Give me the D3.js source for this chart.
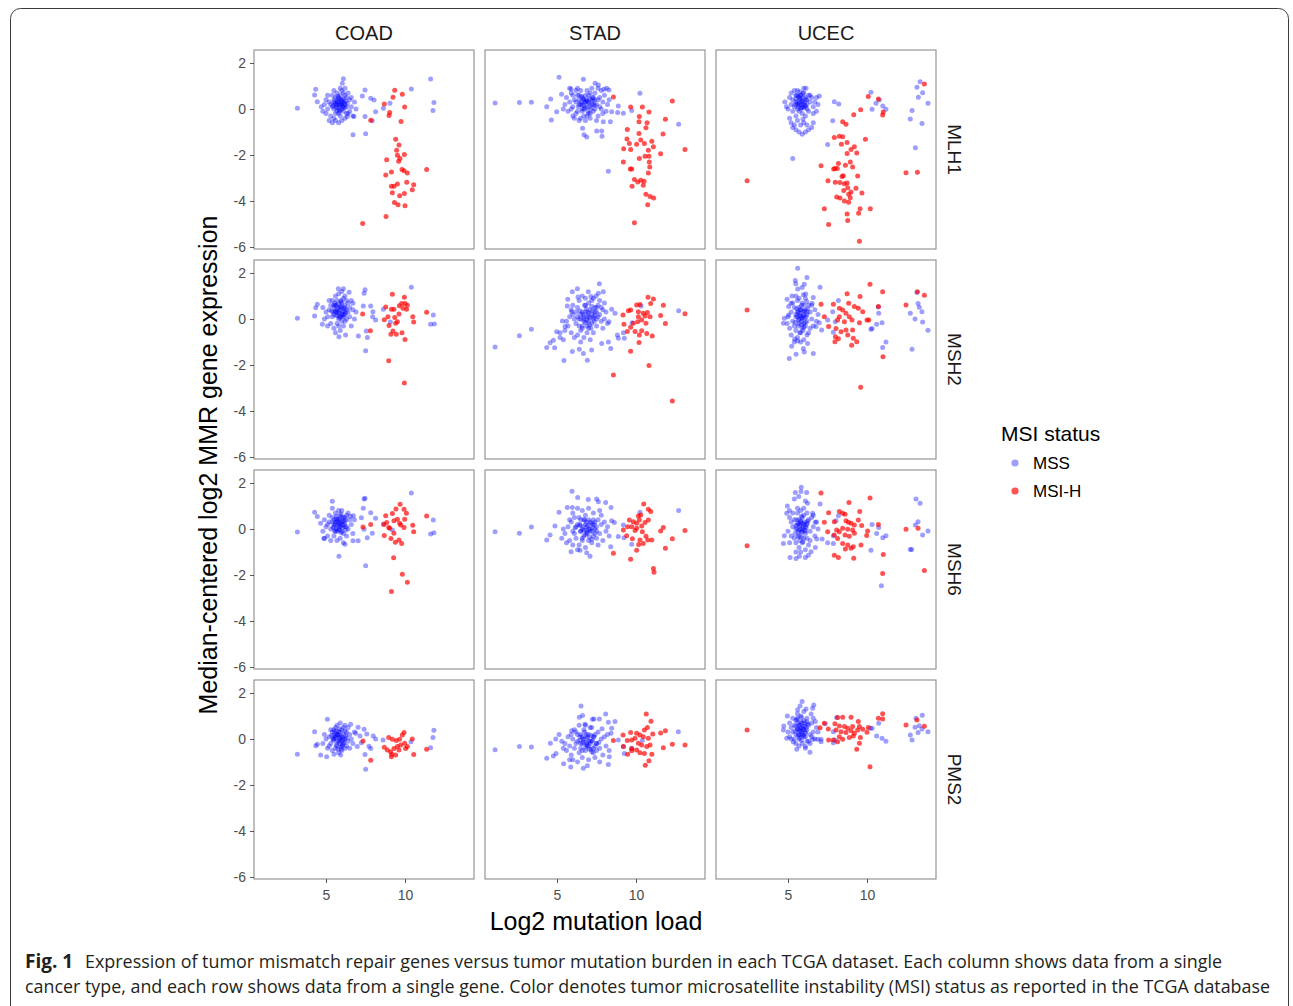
<!DOCTYPE html>
<html><head><meta charset="utf-8">
<script src="https://cdn.jsdelivr.net/npm/d3@7"></script>
<style>body{margin:0;background:#fff;} svg{display:block;}</style>
</head><body>
<svg id="c" width="1293" height="1006"></svg>
<script>
const cancers = ["COAD","STAD","UCEC"];
const genes = ["MLH1","MSH2","MSH6","PMS2"];
const statusLabels = ["MSS","MSI-H"];
const xTicks = [5,10];
const yTicks = [2,0,-2,-4,-6];

// ---------- COAD MLH1 ----------
const COAD_MLH1_MSS = [[5.2,0.3],[5.4,0.1],[5.5,0.4],[5.6,0.2],[5.7,-0.1],[5.8,0.5],[5.9,0.2],[6.0,0.0],[6.1,0.3],[6.2,0.6],[6.3,0.1],[6.4,-0.2],[6.5,0.4],[5.3,-0.3],[5.5,-0.4],[5.7,0.7],[5.9,-0.3],[6.0,0.8],[6.2,-0.4],[6.4,0.7],[5.1,0.0],[5.0,0.4],[4.9,0.2],[4.8,-0.1],[5.6,-0.2],[5.8,0.0],[6.0,0.4],[6.1,-0.1],[6.3,0.5],[6.6,0.1],[6.7,-0.3],[5.4,0.6],[5.6,0.5],[5.8,0.3],[5.9,0.6],[6.1,0.1],[6.2,0.2],[5.7,0.3],[5.5,0.0],[5.3,0.2],[6.5,-0.1],[6.6,0.5],[5.2,-0.5],[5.4,-0.6],[5.6,-0.5],[5.8,-0.6],[6.0,-0.5],[5.9,0.9],[6.1,0.7],[5.7,0.1],[5.8,-0.2],[6.0,0.2],[6.3,-0.2],[4.7,0.1],[5.1,0.6],[6.8,0.3],[6.9,0.0],[5.0,-0.2],[6.2,0.9],[5.5,0.8],
 [5.6,0.25],[5.75,0.35],[5.85,0.15],[5.95,0.4],[6.05,0.1],[6.15,0.25],[5.65,0.05],[5.9,-0.05],[6.25,0.35],[5.5,0.3],[5.8,0.45],[6.0,0.3],[5.7,0.2],[6.1,0.45],[5.85,-0.1],[6.2,0.05],[5.45,0.15],[5.95,0.2],[6.35,0.25],[5.75,0.55],
 [3.19,0.03],[4.35,0.86],[4.28,0.61],[4.45,0.32],[6.1,1.31],[6.03,1.12],[6.71,-1.12],[7.51,-1.08],[7.47,0.83],[7.3,0.57],[7.83,0.47],[8.04,0.39],[8.14,-0.12],[8.63,0.03],[9.05,0.25],[7.47,-0.33],[7.93,-0.51],[10.4,0.87],[11.62,1.3],[11.83,0.28],[11.77,-0.07],[6.77,-0.33],[6.35,-0.33]];
const COAD_MLH1_MSI = [[9.35,0.82],[9.83,0.64],[9.24,0.51],[8.69,0.22],[9.98,0.09],[9.03,-0.15],[8.99,-0.28],[9.75,-0.54],[7.83,-0.49],[9.41,-1.31],[9.62,-1.57],[9.47,-1.79],[9.96,-1.98],[9.52,-2.01],[9.68,-2.15],[8.84,-2.21],[9.6,-2.27],[9.81,-2.63],[9.94,-2.69],[10.15,-2.78],[9.14,-2.74],[8.78,-2.87],[11.37,-2.63],[10.11,-3.19],[9.52,-3.26],[9.14,-3.36],[9.3,-3.36],[10.55,-3.29],[10.46,-3.51],[9.2,-3.64],[9.96,-3.67],[9.66,-3.77],[9.33,-4.06],[9.56,-4.16],[10.0,-4.21],[8.8,-4.67],[7.32,-4.98]];

// ---------- STAD MLH1 ----------
const STAD_MLH1_MSS = [[5.6,0.5],[5.8,0.3],[5.9,0.7],[6.0,0.1],[6.1,0.4],[6.2,-0.2],[6.3,0.6],[6.4,0.2],[6.5,-0.4],[6.6,0.5],[6.7,0.0],[6.8,0.3],[6.9,-0.3],[7.0,0.6],[7.1,0.1],[7.2,0.4],[7.3,-0.1],[7.4,0.7],[7.5,0.2],[7.6,-0.3],[7.7,0.5],[7.8,0.0],[7.9,0.3],[8.0,0.6],[8.1,-0.1],[8.2,0.2],[5.7,-0.1],[5.9,0.0],[6.1,-0.4],[6.3,0.9],[6.5,0.8],[6.6,-0.1],[6.8,-0.5],[6.9,0.8],[7.0,-0.2],[7.2,0.9],[7.3,0.5],[7.5,-0.5],[7.6,0.4],[7.8,0.8],[6.2,0.3],[6.4,0.6],[6.7,0.4],[6.9,0.1],[7.1,0.7],[7.4,0.0],[7.7,0.1],[6.0,0.6],[6.5,0.2],[6.8,0.6],[7.1,-0.4],[7.3,0.2],[6.3,-0.1],[6.6,0.2],[7.0,0.3],[7.9,-0.2],[5.5,0.2],[6.2,0.8],[6.7,-0.3],[7.4,0.4],[6.0,-0.3],[5.8,0.9],[7.6,0.9],[8.3,0.4],[6.4,-0.5],[5.4,0.0],
 [6.5,0.3],[6.7,0.15],[6.85,0.4],[7.0,0.25],[7.15,0.0],[7.3,0.35],[6.6,0.0],[6.95,-0.1],[7.25,0.5],[6.4,0.4],[6.8,0.05],[7.05,0.45],[6.75,0.3],[7.4,0.15],[6.55,0.55],[7.2,0.2],[6.9,0.35],[6.35,0.1],[7.1,-0.2],[6.65,0.45],
 [1.08,0.26],[2.62,0.28],[3.38,0.29],[5.13,1.38],[6.67,1.29],[7.41,1.12],[7.62,1.04],[7.97,0.86],[8.14,0.9],[8.29,0.83],[5.89,0.87],[5.29,0.64],[4.6,0.44],[4.35,0.1],[4.98,-0.12],[4.64,-0.48],[8.88,0.13],[8.84,-0.15],[9.2,-0.19],[9.73,-0.07],[10.25,0.68],[12.7,-0.66],[8.38,-0.55],[7.83,-0.96],[7.51,-0.96],[7.85,-1.18],[6.71,-1.12],[6.88,-1.22],[6.62,-0.84],[8.25,-2.71],[8.46,-0.12],[7.93,-0.55]];
const STAD_MLH1_MSI = [[8.57,0.52],[9.66,0.09],[10.4,0.09],[10.82,-0.13],[12.3,0.35],[10.21,-0.33],[10.19,-0.55],[11.86,-0.45],[10.7,-0.6],[10.63,-0.82],[9.45,-0.89],[10.19,-1.06],[11.71,-1.09],[11.0,-1.4],[9.43,-1.3],[9.58,-1.5],[10.3,-1.35],[10.53,-1.5],[10.04,-1.53],[11.1,-1.64],[9.22,-1.73],[9.66,-1.76],[13.1,-1.76],[10.78,-1.79],[11.56,-1.95],[10.57,-2.05],[10.21,-2.15],[10.82,-2.05],[9.2,-2.3],[10.84,-2.3],[10.87,-2.52],[9.73,-2.61],[9.64,-2.61],[10.78,-2.78],[9.9,-3.07],[10.11,-3.17],[10.3,-3.1],[10.51,-3.14],[9.75,-3.36],[10.46,-3.32],[10.63,-3.71],[10.89,-3.8],[11.12,-3.87],[10.74,-4.16],[9.9,-4.95]];

// ---------- UCEC MLH1 ----------
const UCEC_MLH1_MSS = [[5.3,0.4],[5.4,0.1],[5.5,0.6],[5.6,0.2],[5.7,0.5],[5.8,0.0],[5.9,0.3],[6.0,0.7],[6.1,0.1],[6.2,0.4],[6.3,-0.1],[6.4,0.3],[5.2,0.2],[5.1,0.5],[5.0,0.0],[4.8,0.3],[4.9,0.1],[5.6,0.8],[5.8,0.6],[6.0,0.9],[5.9,-0.2],[5.7,-0.1],[5.5,-0.3],[6.1,-0.3],[6.3,0.6],[6.5,0.5],[6.6,0.1],[6.7,0.3],[6.8,-0.1],[6.6,-0.2],[5.4,0.8],[5.7,0.2],[5.8,0.4],[6.0,0.2],[6.1,0.5],[5.9,0.1],[5.6,0.0],[5.3,-0.1],[5.2,-0.6],[5.4,-0.7],[5.6,-0.5],[5.8,-0.7],[6.0,-0.6],[5.5,-0.9],[5.7,-1.0],[5.9,-1.1],[6.1,-1.0],[6.3,-0.9],[6.5,-0.8],[6.6,-0.6],[5.3,-0.8],[5.1,-0.4],[6.2,0.0],[6.4,0.6],[5.5,0.3],[5.2,0.7],[6.9,0.2],[6.8,0.5],[6.2,-0.7],[5.95,-0.45],
 [5.6,0.3],[5.75,0.45],[5.85,0.2],[5.95,0.5],[6.05,0.3],[5.65,0.1],[5.8,0.6],[5.9,0.35],[6.1,0.15],[5.5,0.45],[5.7,0.25],[6.0,0.05],[5.55,0.6],[6.15,0.4],[5.85,0.05],[5.95,0.7],[5.75,0.75],[6.2,0.2],[5.45,0.2],[5.65,0.55],
 [5.3,-2.15],[7.51,-1.54],[7.83,-0.51],[7.93,0.32],[8.21,0.22],[10.25,0.73],[10.32,-0.01],[10.57,0.25],[10.78,0.39],[11.0,0.13],[11.2,-0.01],[13.36,1.19],[13.16,0.95],[13.52,0.71],[13.25,0.51],[13.86,0.25],[12.85,-0.07],[12.74,-0.44],[13.48,-0.63],[13.06,-1.69],[6.14,0.9],[6.98,0.57]];
const UCEC_MLH1_MSI = [[2.41,-3.12],[13.63,1.09],[10.08,0.54],[10.72,0.44],[11.03,-0.13],[10.99,-0.26],[9.6,-0.03],[9.16,-0.25],[8.46,-0.55],[8.67,-0.66],[9.9,-1.32],[7.93,-1.24],[8.25,-1.18],[8.46,-1.21],[8.74,-1.46],[8.38,-1.53],[9.2,-1.64],[8.99,-1.76],[8.74,-1.94],[9.35,-1.91],[7.09,-2.47],[8.19,-2.37],[8.63,-2.45],[8.94,-2.3],[9.09,-2.52],[7.97,-2.59],[7.89,-2.61],[8.12,-2.59],[8.5,-2.9],[8.42,-2.93],[9.41,-2.91],[7.53,-3.12],[7.99,-3.19],[8.29,-3.2],[8.57,-3.25],[8.74,-3.22],[8.78,-3.42],[9.3,-3.45],[8.53,-3.54],[8.99,-3.61],[8.84,-3.71],[9.68,-3.65],[8.08,-3.83],[8.29,-3.87],[8.57,-4.0],[8.84,-4.05],[8.94,-3.86],[7.3,-4.34],[9.56,-4.34],[10.21,-4.34],[9.47,-4.53],[8.74,-4.56],[7.57,-5.02],[8.78,-4.85],[9.52,-5.75],[12.47,-2.77],[13.19,-2.75]];

// ---------- COAD MSH2 ----------
const COAD_MSH2_MSS = [[5.2,0.4],[5.4,0.1],[5.5,0.6],[5.6,0.3],[5.7,0.8],[5.8,0.0],[5.9,0.5],[6.0,0.2],[6.1,0.9],[6.2,-0.1],[6.3,0.4],[6.4,0.7],[6.5,0.1],[6.6,-0.3],[5.3,-0.2],[5.5,-0.4],[5.7,-0.2],[5.9,-0.5],[6.1,-0.3],[6.3,0.0],[5.0,0.3],[4.9,0.0],[4.8,0.5],[5.1,-0.3],[5.6,1.0],[5.8,1.1],[6.0,0.7],[6.2,0.5],[6.4,0.3],[5.4,0.8],[5.6,0.6],[5.8,0.3],[6.0,0.5],[6.2,0.2],[5.7,0.4],[5.9,0.1],[6.1,0.1],[5.5,0.2],[6.3,0.8],[6.7,0.4],[6.8,0.0],[5.2,0.8],[5.3,0.6],[6.0,-0.1],[5.8,-0.3],[6.5,0.5],[6.6,0.8],[6.9,0.3],[5.1,0.1],[5.6,-0.6],[6.2,1.0],[6.0,1.2],[5.35,0.35],[6.15,0.35],[5.75,0.15],[5.95,0.75],
 [5.6,0.35],[5.75,0.5],[5.85,0.25],[5.95,0.55],[6.05,0.3],[5.65,0.15],[5.8,0.65],[5.9,0.4],[6.1,0.2],[5.5,0.5],[5.7,0.3],[6.0,0.1],[5.55,0.7],[6.15,0.45],[5.85,0.05],[5.95,0.8],[6.2,0.6],[6.25,0.25],[5.45,0.3],[5.65,0.6],
 [3.19,0.03],[4.28,0.13],[4.35,0.49],[4.45,0.64],[4.77,-0.23],[5.78,1.31],[6.1,1.32],[6.46,1.16],[7.47,1.27],[7.41,1.12],[6.71,0.68],[7.36,0.57],[7.83,0.57],[7.97,0.32],[8.14,-0.04],[7.95,0.1],[7.05,-0.74],[7.62,-0.8],[7.55,-0.52],[7.51,-1.38],[6.24,-0.7],[5.82,-0.77],[8.63,0.42],[9.07,-0.13],[10.4,1.38],[11.79,0.17],[11.62,-0.23],[11.86,-0.22]];
const COAD_MSH2_MSI = [[7.32,0.22],[7.81,-0.51],[9.2,1.08],[9.96,0.95],[8.78,0.52],[9.14,0.42],[9.3,0.42],[9.64,0.58],[9.79,0.67],[10.0,0.67],[10.15,0.6],[9.87,0.47],[10.1,0.42],[9.62,0.22],[9.35,0.06],[8.92,0.1],[8.69,-0.03],[9.41,-0.19],[10.49,0.1],[10.55,-0.13],[11.37,0.29],[8.99,-0.28],[9.24,-0.52],[9.45,-0.66],[9.11,-0.66],[9.81,-0.6],[10.0,-0.89],[8.97,-1.82],[9.96,-2.78],[9.52,-0.12]];

// ---------- STAD MSH2 ----------
const STAD_MSH2_MSS = [[6.0,0.2],[6.2,-0.2],[6.3,0.5],[6.4,0.0],[6.5,-0.5],[6.6,0.3],[6.7,-0.1],[6.8,0.6],[6.9,0.1],[7.0,-0.4],[7.1,0.4],[7.2,0.8],[7.3,0.0],[7.4,0.3],[7.5,-0.3],[7.6,0.6],[7.7,0.2],[7.8,-0.1],[7.9,0.4],[8.0,0.0],[8.1,0.3],[8.2,-0.2],[5.7,-0.3],[5.8,0.1],[5.9,-0.6],[6.1,-0.8],[6.3,-0.7],[6.5,-1.0],[6.7,-0.8],[6.9,-0.6],[7.1,-0.9],[7.3,-0.6],[5.6,-0.1],[5.5,-0.5],[6.0,0.6],[6.4,0.8],[6.6,1.0],[6.8,0.9],[7.0,0.7],[7.3,0.9],[7.5,0.5],[7.7,0.8],[6.2,0.3],[6.5,0.2],[6.8,0.3],[7.0,0.1],[7.2,0.2],[7.4,0.5],[6.1,0.0],[6.4,-0.3],[6.7,0.0],[7.0,-0.1],[7.6,0.1],[7.8,0.5],[5.9,0.4],[6.3,0.1],[6.9,-0.3],[7.2,-0.2],[7.5,0.0],[5.4,-0.9],[5.2,-0.6],[8.0,0.7],[6.6,-0.4],[7.9,-0.4],
 [6.5,0.0],[6.65,0.2],[6.8,-0.15],[6.95,0.3],[7.1,0.05],[7.25,0.35],[7.4,0.15],[6.6,-0.3],[6.85,0.45],[7.05,-0.25],[7.35,-0.1],[6.7,0.1],[7.0,0.25],[7.2,0.55],[6.9,-0.05],[7.5,0.3],[6.45,0.35],[7.15,-0.4],[6.75,0.6],[7.3,0.1],
 [7.68,1.53],[6.29,1.32],[5.97,1.18],[6.98,1.19],[7.93,1.18],[7.62,1.12],[6.33,0.96],[5.68,0.86],[7.15,0.98],[7.47,1.0],[5.65,0.57],[5.93,0.31],[5.34,-0.09],[5.51,-0.33],[4.98,-0.55],[4.77,-0.92],[4.56,-1.03],[4.35,-1.24],[4.85,-1.25],[5.19,-0.8],[5.44,-1.8],[5.97,-1.41],[6.41,-1.32],[6.67,-1.5],[6.92,-1.79],[7.19,-1.35],[8.4,-1.28],[8.25,-1.0],[7.83,-1.06],[3.38,-0.45],[2.62,-0.73],[1.08,-1.22],[8.46,0.42],[8.67,0.25],[8.82,-0.7],[8.88,-0.84],[9.26,-0.84],[9.2,-0.6],[9.75,-0.16],[10.32,0.57],[12.7,0.36],[8.29,-0.12]];
const STAD_MSH2_MSI = [[10.76,0.95],[11.1,0.87],[11.73,0.6],[13.1,0.23],[10.93,0.67],[10.04,0.61],[10.25,0.63],[9.66,0.39],[9.52,0.36],[10.15,0.32],[10.46,0.25],[10.72,0.28],[10.89,0.1],[10.57,0.13],[9.18,0.17],[11.56,0.15],[10.15,0.1],[10.36,-0.04],[10.11,-0.12],[10.63,-0.19],[9.24,-0.23],[9.83,-0.19],[11.86,-0.2],[9.66,-0.36],[9.45,-0.54],[9.94,-0.54],[10.36,-0.51],[10.68,-0.63],[10.21,-0.7],[11.03,-0.74],[10.19,-1.02],[9.66,-1.4],[10.82,-2.02],[8.57,-2.43],[12.3,-3.57]];

// ---------- UCEC MSH2 ----------
const UCEC_MSH2_MSS = [[5.4,0.5],[5.5,0.1],[5.6,0.8],[5.7,-0.2],[5.8,0.4],[5.9,0.0],[6.0,0.6],[6.1,-0.3],[6.2,0.2],[6.3,-0.6],[6.4,0.3],[5.3,-0.1],[5.2,0.3],[5.1,-0.4],[5.0,0.1],[5.5,-0.5],[5.6,-0.8],[5.8,-0.6],[6.0,-0.9],[6.2,-0.7],[5.7,0.9],[5.9,0.7],[6.1,0.9],[6.3,0.6],[6.5,0.0],[6.6,-0.3],[6.7,0.4],[6.8,-0.1],[5.4,-0.3],[5.6,0.3],[5.8,0.1],[6.0,0.2],[6.2,-0.1],[5.7,0.5],[5.9,-0.4],[6.1,0.4],[5.3,0.7],[5.5,1.0],[5.8,-1.0],[6.4,-0.4],[6.5,0.6],[5.2,-0.7],[5.4,-1.0],[6.0,-0.2],[5.75,0.15],[5.95,0.35],[5.65,-0.05],[6.05,0.05],[5.85,-0.25],[6.25,0.45],[4.95,-0.2],[6.9,0.2],
 [5.6,0.1],[5.75,0.25],[5.85,-0.1],[5.95,0.15],[6.05,0.35],[5.65,-0.3],[5.8,0.4],[5.9,0.05],[6.1,-0.15],[5.5,0.2],[5.7,0.0],[6.0,-0.35],[5.55,0.45],[6.15,0.1],[5.85,0.6],[5.95,-0.5],[5.75,-0.6],[6.2,0.3],[5.45,-0.15],[5.65,0.3],
 [5.61,2.21],[5.46,1.67],[6.2,1.8],[5.49,1.53],[6.03,1.51],[5.89,1.37],[5.61,1.3],[7.03,1.38],[6.12,1.09],[5.97,1.05],[5.25,1.0],[4.94,0.86],[6.6,0.93],[5.19,0.68],[5.04,0.54],[6.52,0.68],[6.18,0.76],[4.77,0.03],[4.71,-0.19],[5.04,0.17],[6.98,-0.16],[7.13,-0.48],[6.77,-0.33],[5.42,-0.87],[5.61,-0.95],[5.23,-1.18],[5.08,-1.72],[5.51,-1.53],[6.03,-1.43],[6.6,-1.5],[6.24,-1.06],[5.97,-1.28],[7.83,0.32],[8.19,0.8],[7.99,-0.12],[7.87,-0.58],[7.51,-0.04],[10.25,-0.45],[10.32,-0.41],[10.61,-0.23],[10.95,-0.16],[10.74,0.25],[10.72,0.52],[11.2,-1.0],[10.99,-1.24],[12.85,-1.32],[13.16,1.15],[13.23,0.67],[13.31,0.51],[13.48,0.32],[12.74,0.25],[13.04,0.0],[13.52,-0.13],[13.86,-0.49]];
const UCEC_MSH2_MSI = [[2.41,0.39],[7.09,0.64],[7.3,0.1],[7.87,0.64],[8.74,1.1],[9.56,0.98],[10.19,1.51],[10.99,1.19],[8.25,0.47],[8.46,0.39],[8.84,0.68],[9.2,0.54],[9.45,0.47],[9.73,0.32],[8.67,0.25],[8.88,0.1],[9.05,-0.04],[9.52,-0.16],[10.0,-0.04],[10.11,-0.04],[8.25,0.1],[8.14,-0.04],[8.57,-0.12],[7.57,-0.33],[8.04,-0.41],[8.67,-0.48],[9.09,-0.48],[8.36,-0.55],[8.0,-0.77],[8.19,-0.86],[8.78,-0.7],[9.13,-0.84],[9.35,-0.99],[9.03,-1.14],[7.97,-0.99],[10.72,0.54],[12.47,0.61],[13.19,1.19],[13.63,1.03],[11.01,-1.64],[9.6,-2.97]];

// ---------- COAD MSH6 ----------
const COAD_MSH6_MSS = [[5.2,0.3],[5.3,0.0],[5.4,0.5],[5.5,0.2],[5.6,0.7],[5.7,-0.1],[5.8,0.4],[5.9,0.1],[6.0,0.8],[6.1,-0.2],[6.2,0.3],[6.3,0.6],[6.4,0.0],[6.5,0.4],[5.1,-0.3],[5.0,0.1],[4.9,0.4],[4.8,-0.1],[5.3,-0.5],[5.5,-0.3],[5.7,-0.5],[5.9,-0.4],[6.1,-0.6],[6.3,-0.3],[5.6,0.2],[5.8,0.0],[6.0,0.3],[6.2,0.1],[5.7,0.3],[5.9,0.6],[6.1,0.5],[5.4,0.9],[5.6,-0.1],[5.8,0.8],[6.0,-0.1],[6.4,0.7],[6.6,0.2],[6.7,-0.2],[6.8,0.4],[5.2,0.6],[5.1,0.2],[5.5,0.4],[6.2,0.5],[5.85,0.25],[6.05,0.15],[5.65,0.45],[5.45,0.05],[6.25,-0.05],[5.95,-0.15],[6.55,0.55],[4.9,-0.4],
 [5.6,0.3],[5.75,0.2],[5.85,0.45],[5.95,0.3],[6.05,0.05],[5.65,0.55],[5.8,0.1],[5.9,0.2],[6.1,0.35],[5.5,0.1],[5.7,0.4],[6.0,0.5],[5.55,-0.1],[6.15,0.2],[5.85,-0.05],[5.95,0.65],[6.25,0.4],[6.3,0.1],[5.4,0.3],[5.65,0.0],
 [3.19,-0.13],[4.28,0.73],[4.45,0.54],[5.4,1.21],[4.66,0.25],[4.87,-0.41],[5.82,-1.18],[6.2,-0.66],[6.71,-0.51],[7.03,-0.51],[6.73,0.58],[7.24,0.49],[7.41,1.3],[7.47,1.34],[7.36,0.9],[7.83,0.71],[8.14,0.47],[7.93,-0.19],[7.61,-0.38],[7.41,-0.01],[7.51,-1.6],[8.63,0.22],[10.4,1.57],[11.79,0.39],[11.62,-0.22],[11.83,-0.16],[9.2,-0.04]];
const COAD_MSH6_MSI = [[7.34,0.09],[7.83,0.2],[8.78,0.58],[9.2,0.67],[9.69,1.08],[9.43,0.87],[9.94,0.86],[10.09,0.68],[9.98,0.42],[9.52,0.42],[9.3,0.36],[9.66,0.25],[8.84,0.28],[8.97,0.06],[8.67,0.2],[9.94,0.07],[10.49,0.16],[10.55,-0.12],[11.37,0.57],[9.73,0.17],[9.3,-0.19],[8.69,-0.28],[9.11,-0.41],[9.62,-0.48],[9.39,-0.58],[9.79,-0.63],[9.28,-1.25],[9.83,-1.97],[10.15,-2.31],[9.14,-2.72],[9.03,0.03]];

// ---------- STAD MSH6 ----------
const STAD_MSH6_MSS = [[5.5,-0.2],[5.7,0.1],[5.8,-0.5],[5.9,0.3],[6.0,-0.1],[6.1,0.5],[6.2,-0.4],[6.3,0.2],[6.4,-0.7],[6.5,0.4],[6.6,0.0],[6.7,-0.3],[6.8,0.6],[6.9,0.1],[7.0,-0.5],[7.1,0.3],[7.2,-0.1],[7.3,0.7],[7.4,0.0],[7.5,-0.4],[7.6,0.4],[7.7,-0.2],[7.8,0.2],[7.9,-0.5],[8.0,0.3],[8.1,-0.1],[8.2,0.1],[5.4,0.0],[5.6,-0.6],[6.0,0.7],[6.3,0.9],[6.6,0.8],[7.0,0.9],[7.3,0.4],[6.2,0.1],[6.5,-0.1],[6.8,0.2],[7.1,0.0],[7.4,0.3],[6.4,0.5],[6.7,0.4],[6.9,-0.2],[7.2,-0.6],[6.0,-0.7],[6.3,-0.9],[6.8,-0.8],[7.6,-0.7],[7.8,0.6],[5.8,0.4],[6.1,-0.2],[6.6,-0.5],[7.0,0.4],[7.5,0.1],[6.45,0.15],[6.85,-0.05],[7.25,0.2],[6.15,0.05],[5.3,-0.4],[8.3,-0.3],[7.7,0.8],
 [6.5,-0.1],[6.65,0.1],[6.8,-0.25],[6.95,0.15],[7.1,-0.1],[7.25,0.05],[7.4,-0.2],[6.6,-0.4],[6.85,0.3],[7.05,-0.35],[7.35,0.2],[6.7,-0.05],[7.0,0.0],[7.2,-0.45],[6.9,-0.15],[7.5,-0.1],[6.45,0.2],[7.15,0.25],[6.75,0.4],[7.3,-0.3],
 [1.08,-0.12],[2.62,-0.19],[3.38,0.09],[4.35,-0.48],[4.56,-0.26],[4.87,0.13],[5.13,0.73],[5.95,1.64],[6.31,1.37],[5.65,0.93],[5.97,0.93],[6.98,1.28],[7.51,1.3],[7.62,1.19],[8.08,1.15],[8.42,0.93],[8.46,0.36],[8.63,0.28],[5.89,-0.99],[7.09,-1.18],[6.88,-1.03],[8.4,-0.77],[8.88,-0.33],[9.24,-0.38],[9.2,0.17],[9.73,-0.66],[10.25,0.73],[12.7,0.8],[6.46,-0.92]];
const STAD_MSH6_MSI = [[10.49,1.09],[10.78,0.86],[10.93,0.76],[10.15,0.57],[10.3,0.61],[9.58,0.39],[9.83,0.32],[10.04,0.25],[10.21,0.39],[10.78,0.39],[10.57,0.28],[10.36,0.13],[9.73,0.1],[9.47,0.1],[9.2,-0.04],[9.94,-0.07],[10.4,-0.12],[10.63,-0.31],[11.0,-0.48],[10.74,-0.48],[10.25,-0.48],[9.77,-0.42],[9.41,-0.29],[11.73,0.06],[11.56,-0.09],[13.1,-0.07],[12.3,-0.42],[11.86,-0.84],[10.46,-0.63],[10.17,-0.67],[10.04,-0.92],[8.57,-1.05],[9.66,-1.32],[11.1,-1.72],[11.14,-1.88],[10.04,0.03]];

// ---------- UCEC MSH6 ----------
const UCEC_MSH6_MSS = [[5.4,0.4],[5.5,0.0],[5.6,0.7],[5.7,-0.3],[5.8,0.3],[5.9,-0.1],[6.0,0.6],[6.1,0.1],[6.2,-0.4],[6.3,0.4],[6.4,-0.1],[5.3,0.1],[5.2,-0.3],[5.1,0.5],[5.0,-0.1],[5.5,-0.6],[5.7,-0.8],[5.9,-0.6],[6.1,-0.9],[6.3,-0.7],[5.6,0.9],[5.8,0.8],[6.0,0.9],[6.2,0.7],[6.5,0.5],[6.6,0.1],[6.7,-0.3],[6.8,0.3],[5.4,-0.4],[5.6,0.2],[5.8,0.0],[6.0,0.2],[6.2,0.2],[5.7,0.4],[5.9,0.5],[6.1,-0.2],[5.3,0.7],[5.5,-1.0],[5.8,-1.0],[6.4,-0.5],[5.2,0.3],[6.9,0.0],[5.75,0.15],[5.95,0.25],[5.65,-0.15],[6.05,-0.05],[5.85,-0.35],[6.25,0.35],[5.1,-0.6],[6.6,0.6],
 [5.6,0.0],[5.75,0.2],[5.85,-0.15],[5.95,0.1],[6.05,0.3],[5.65,-0.35],[5.8,0.35],[5.9,0.0],[6.1,-0.1],[5.5,0.15],[5.7,-0.05],[6.0,-0.4],[5.55,0.4],[6.15,0.05],[5.85,0.55],[5.95,-0.55],[5.75,-0.5],[6.2,0.25],[5.45,-0.2],[5.65,0.25],
 [5.84,1.82],[5.82,1.63],[6.18,1.59],[5.46,1.59],[5.68,1.41],[5.4,1.3],[6.1,1.22],[6.24,1.12],[4.96,1.0],[5.09,0.8],[4.92,0.68],[7.03,1.09],[6.56,0.68],[6.73,0.29],[4.77,-0.29],[4.71,-0.63],[5.13,-1.24],[5.51,-1.28],[5.72,-1.18],[6.1,-1.24],[6.29,-1.14],[6.46,-0.99],[6.73,-0.8],[6.82,-0.44],[7.16,-0.44],[7.51,-0.6],[7.87,-0.63],[7.87,-0.29],[8.04,0.36],[8.19,0.58],[10.32,0.2],[10.74,0.07],[10.61,-0.2],[11.0,-0.38],[11.2,-0.29],[10.25,-0.92],[10.91,-2.47],[13.1,1.3],[13.36,1.12],[13.23,0.32],[13.06,0.17],[13.52,-0.26],[13.86,-0.09],[12.74,-0.89],[12.83,-0.89]];
const UCEC_MSH6_MSI = [[2.41,-0.73],[7.09,1.56],[7.57,0.71],[7.3,0.29],[7.51,-0.12],[8.86,1.15],[10.19,1.35],[9.54,0.76],[8.25,0.76],[8.46,0.68],[8.61,0.64],[7.93,0.32],[8.67,0.36],[8.82,0.29],[8.99,0.25],[9.2,0.17],[9.45,0.39],[9.66,0.15],[8.46,0.03],[8.78,-0.01],[9.09,-0.04],[8.25,-0.12],[8.08,-0.04],[8.61,-0.26],[8.88,-0.31],[9.2,-0.19],[10.04,-0.09],[9.98,-0.28],[10.72,0.2],[8.14,-0.41],[7.93,-0.26],[8.46,-0.63],[8.78,-0.7],[8.99,-0.84],[9.13,-0.77],[9.62,-0.7],[8.63,-0.87],[7.93,-1.14],[8.19,-1.24],[9.16,-1.27],[11.03,-1.11],[10.99,-1.94],[12.47,-0.01],[13.23,0.03],[13.63,-1.8]];

// ---------- COAD PMS2 ----------
const COAD_PMS2_MSS = [[5.2,0.1],[5.3,-0.2],[5.4,0.3],[5.5,0.0],[5.6,0.5],[5.7,-0.3],[5.8,0.2],[5.9,-0.1],[6.0,0.4],[6.1,0.0],[6.2,-0.4],[6.3,0.3],[6.4,-0.1],[6.5,0.2],[5.1,-0.4],[5.0,0.0],[4.9,0.2],[4.8,-0.2],[5.4,-0.5],[5.6,-0.4],[5.8,-0.6],[6.0,-0.5],[6.2,0.6],[5.7,0.6],[5.9,0.7],[6.1,0.5],[5.5,0.4],[5.6,0.1],[5.8,-0.1],[6.0,0.1],[6.2,0.0],[5.7,0.2],[5.9,0.3],[6.1,-0.2],[6.3,-0.3],[6.4,0.5],[6.6,0.0],[6.7,-0.2],[6.8,0.3],[5.3,0.4],[5.2,-0.3],[5.85,0.05],[6.05,-0.25],[5.65,0.35],[5.45,-0.05],[6.25,0.15],[5.95,-0.35],[5.75,-0.45],[6.5,-0.4],[5.35,0.15],
 [5.6,0.05],[5.75,0.15],[5.85,-0.2],[5.95,0.1],[6.05,-0.05],[5.65,-0.25],[5.8,0.3],[5.9,0.0],[6.1,0.2],[5.5,0.15],[5.7,-0.1],[6.0,-0.3],[5.55,0.3],[6.15,-0.15],[5.85,0.45],[5.95,-0.45],[6.2,0.35],[6.3,0.05],[5.45,0.0],[5.65,0.2],
 [3.19,-0.66],[4.28,0.32],[4.45,-0.23],[4.35,-0.29],[5.09,0.86],[4.66,-0.7],[5.04,-0.77],[5.51,-0.66],[5.93,-0.7],[6.56,0.64],[7.03,0.51],[7.41,0.42],[7.58,0.22],[7.15,0.13],[6.98,-0.33],[7.24,-0.16],[7.72,-0.31],[7.83,-0.41],[7.99,0.13],[8.14,0.0],[7.47,-0.67],[7.51,-1.31],[8.61,-0.04],[10.38,-0.12],[11.83,0.38],[11.77,0.07],[11.62,-0.38],[6.88,0.25]];
const COAD_PMS2_MSI = [[7.34,-0.09],[7.83,-0.92],[8.97,0.07],[9.2,-0.01],[9.45,-0.07],[9.66,-0.01],[9.94,0.28],[9.83,0.17],[10.46,0.0],[8.69,-0.36],[8.88,-0.48],[9.09,-0.55],[9.3,-0.41],[9.52,-0.33],[9.73,-0.26],[10.04,-0.41],[10.15,-0.33],[9.62,-0.48],[9.14,-0.77],[9.41,-0.7],[9.98,-0.19],[10.55,-0.67],[11.37,-0.45],[9.16,-0.66]];

// ---------- STAD PMS2 ----------
const STAD_PMS2_MSS = [[5.5,-0.2],[5.6,-0.5],[5.7,0.1],[5.8,-0.3],[5.9,-0.7],[6.0,0.0],[6.1,-0.4],[6.2,0.3],[6.3,-0.1],[6.4,-0.6],[6.5,0.2],[6.6,-0.2],[6.7,0.4],[6.8,-0.5],[6.9,0.1],[7.0,-0.3],[7.1,0.5],[7.2,-0.1],[7.3,-0.6],[7.4,0.2],[7.5,-0.2],[7.6,0.3],[7.7,-0.4],[7.8,0.0],[7.9,-0.7],[8.0,0.1],[8.1,-0.3],[8.2,0.2],[5.4,-0.4],[5.3,-0.1],[6.0,-0.9],[6.3,-1.0],[6.6,-0.8],[7.0,-0.9],[7.4,-0.8],[7.7,-1.0],[6.1,0.4],[6.4,0.6],[6.8,0.6],[7.2,0.5],[6.2,-0.2],[6.5,-0.4],[6.7,0.0],[6.9,-0.3],[7.1,-0.1],[7.3,0.1],[6.3,0.2],[6.6,0.1],[7.0,0.2],[7.5,-0.5],[5.9,0.2],[6.85,-0.15],[6.45,-0.05],[7.15,-0.45],[7.65,-0.15],[5.8,-0.9],[8.3,-0.5],[7.85,0.45],
 [6.5,-0.2],[6.65,0.0],[6.8,-0.35],[6.95,0.05],[7.1,-0.2],[7.25,-0.05],[7.4,-0.3],[6.6,-0.5],[6.85,0.2],[7.05,-0.45],[7.35,0.1],[6.7,-0.15],[7.0,-0.1],[7.2,-0.55],[6.9,-0.25],[7.5,-0.2],[6.45,0.1],[7.15,0.15],[6.75,0.3],[7.3,-0.4],
 [1.08,-0.47],[2.62,-0.33],[3.38,-0.35],[4.35,-0.84],[4.58,-0.19],[4.77,-0.74],[4.94,-0.63],[5.13,0.2],[4.92,0.0],[5.42,-1.08],[5.87,-1.22],[6.67,-1.27],[6.92,-1.16],[6.52,1.44],[6.41,0.95],[6.62,1.02],[6.77,0.64],[7.24,0.86],[7.34,0.87],[7.68,0.87],[8.08,1.09],[8.25,0.73],[8.67,0.76],[8.46,0.47],[8.42,0.25],[8.31,-0.77],[8.25,-1.11],[8.88,-0.04],[9.2,-0.33],[9.26,-0.63],[9.73,-0.41],[12.68,0.31],[10.4,-0.07],[5.93,0.36]];
const STAD_PMS2_MSI = [[10.65,1.09],[10.95,0.77],[10.72,0.5],[10.53,0.39],[11.86,0.36],[11.56,0.26],[11.06,0.22],[9.18,0.17],[9.66,0.28],[10.04,0.25],[10.25,0.17],[10.46,0.1],[10.78,0.03],[9.94,0.03],[9.73,-0.04],[9.45,-0.07],[8.57,-0.07],[10.15,-0.19],[10.36,-0.26],[10.68,-0.33],[10.89,-0.26],[9.2,-0.33],[9.73,-0.41],[10.04,-0.48],[10.25,-0.6],[10.53,-0.63],[11.0,-0.66],[9.47,-0.66],[9.73,-0.51],[12.3,-0.23],[13.1,-0.26],[11.73,-0.38],[10.82,-0.95],[10.59,-1.14]];

// ---------- UCEC PMS2 ----------
const UCEC_PMS2_MSS = [[5.4,0.6],[5.5,0.2],[5.6,0.9],[5.7,0.0],[5.8,0.5],[5.9,0.2],[6.0,0.8],[6.1,0.3],[6.2,-0.1],[6.3,0.6],[6.4,0.2],[5.3,0.3],[5.2,0.0],[5.1,0.7],[5.0,0.3],[5.5,-0.2],[5.7,-0.3],[5.9,-0.2],[6.1,-0.4],[6.3,-0.1],[5.6,1.1],[5.8,1.0],[6.0,1.2],[6.2,0.9],[6.5,0.7],[6.6,0.3],[6.7,0.0],[6.8,0.5],[5.4,0.0],[5.6,0.4],[5.8,0.2],[6.0,0.4],[6.2,0.4],[5.7,0.6],[5.9,0.7],[6.1,0.1],[5.3,0.9],[5.5,0.8],[6.4,-0.2],[5.2,0.5],[6.9,0.3],[5.75,0.35],[5.95,0.45],[5.65,0.15],[6.05,0.55],[5.85,-0.05],[6.25,0.65],[5.1,0.1],[6.6,0.9],[6.5,0.1],
 [5.6,0.45],[5.75,0.6],[5.85,0.3],[5.95,0.55],[6.05,0.7],[5.65,0.2],[5.8,0.75],[5.9,0.4],[6.1,0.25],[5.5,0.55],[5.7,0.4],[6.0,0.1],[5.55,0.85],[6.15,0.5],[5.85,0.95],[5.95,0.15],[5.75,0.05],[6.2,0.75],[5.45,0.35],[5.65,0.7],
 [5.89,1.63],[6.63,1.48],[6.56,1.34],[5.76,1.44],[5.61,1.27],[4.96,1.0],[6.14,1.3],[6.46,1.09],[4.73,0.57],[4.71,0.39],[4.92,0.03],[5.34,-0.13],[5.55,-0.45],[6.1,-0.31],[6.39,-0.58],[6.56,-0.01],[6.88,-0.01],[7.09,-0.12],[7.09,-0.01],[6.73,0.76],[7.36,0.66],[7.87,0.32],[7.87,-0.16],[7.97,-0.04],[8.08,0.93],[10.21,0.47],[10.32,0.47],[10.74,0.68],[10.61,0.13],[10.95,0.03],[11.2,-0.1],[12.74,0.17],[12.85,-0.04],[13.1,0.9],[13.5,1.03],[13.04,0.51],[13.23,0.28],[13.48,0.44],[13.86,0.31],[13.31,0.58]];
const UCEC_PMS2_MSI = [[2.41,0.39],[7.3,0.68],[7.03,0.49],[7.55,0.44],[7.57,-0.04],[8.14,0.93],[8.46,0.95],[8.99,0.95],[7.97,0.66],[8.25,0.57],[8.57,0.54],[8.78,0.47],[9.09,0.54],[9.45,0.76],[9.52,0.54],[8.04,0.39],[8.36,0.32],[8.67,0.28],[8.99,0.36],[9.2,0.25],[9.41,0.39],[9.73,0.42],[10.08,0.5],[10.0,0.29],[8.25,0.1],[8.46,-0.01],[8.88,0.07],[9.13,0.13],[9.58,0.07],[8.14,-0.12],[7.87,-0.04],[9.52,-0.19],[9.35,-0.45],[10.72,0.9],[10.99,1.1],[10.99,0.87],[10.19,-1.21],[12.47,0.61],[13.16,0.83],[13.63,0.55]];

// ---------- assemble ----------
const panelData = {
  COAD:{MLH1:[COAD_MLH1_MSS,COAD_MLH1_MSI],MSH2:[COAD_MSH2_MSS,COAD_MSH2_MSI],MSH6:[COAD_MSH6_MSS,COAD_MSH6_MSI],PMS2:[COAD_PMS2_MSS,COAD_PMS2_MSI]},
  STAD:{MLH1:[STAD_MLH1_MSS,STAD_MLH1_MSI],MSH2:[STAD_MSH2_MSS,STAD_MSH2_MSI],MSH6:[STAD_MSH6_MSS,STAD_MSH6_MSI],PMS2:[STAD_PMS2_MSS,STAD_PMS2_MSI]},
  UCEC:{MLH1:[UCEC_MLH1_MSS,UCEC_MLH1_MSI],MSH2:[UCEC_MSH2_MSS,UCEC_MSH2_MSI],MSH6:[UCEC_MSH6_MSS,UCEC_MSH6_MSI],PMS2:[UCEC_PMS2_MSS,UCEC_PMS2_MSI]}
};

const svg = d3.select("#c");
const FONT = "'Liberation Sans', Arial, sans-serif";
const colors = ["#0000FF","#FF0000"];
const alphas = [0.38,0.68];

// outer frame
svg.append("rect").attr("x",10.5).attr("y",8.5).attr("width",1278).attr("height",1030)
  .attr("rx",10).attr("fill","none").attr("stroke","#3c3c3c").attr("stroke-width",1);

const panelW = 220, panelH = 199, gapX = 11, gapY = 11, left0 = 254, top0 = 50;
const x = d3.scaleLinear().domain([0.443,14.367]).range([0,panelW]);
const y = d3.scaleLinear().domain([-6.087,2.565]).range([panelH,0]);

cancers.forEach((cn,ci)=>{
  const px = left0 + ci*(panelW+gapX);
  svg.append("text").attr("x",px+panelW/2).attr("y",40).attr("text-anchor","middle")
    .attr("font-family",FONT).attr("font-size",20).attr("fill","#1a1a1a").text(cn);
  genes.forEach((gn,gi)=>{
    const py = top0 + gi*(panelH+gapY);
    const g = svg.append("g").attr("transform",`translate(${px},${py})`);
    g.append("rect").attr("width",panelW).attr("height",panelH).attr("fill","#fff");
    const [mss,msi] = panelData[cn][gn];
    [mss,msi].forEach((arr,si)=>{
      g.append("g").selectAll("circle").data(arr).join("circle")
        .attr("cx",d=>x(d[0])).attr("cy",d=>y(d[1])).attr("r",2.5)
        .attr("fill",colors[si]).attr("fill-opacity",alphas[si]);
    });
    g.append("rect").attr("width",panelW).attr("height",panelH).attr("fill","none")
      .attr("stroke","#8c8c8c").attr("stroke-width",1.1);
    if(ci===0){
      const ax = g.append("g").call(d3.axisLeft(y).tickValues(yTicks).tickSize(4).tickPadding(4).tickFormat(d=>String(d)));
      ax.select(".domain").remove();
      ax.selectAll("line").attr("stroke","#555");
      ax.selectAll("text").attr("font-family",FONT).attr("font-size",14).attr("fill","#4d4d4d");
    }
    if(gi===genes.length-1){
      const ax = g.append("g").attr("transform",`translate(0,${panelH})`)
        .call(d3.axisBottom(x).tickValues(xTicks).tickSize(4).tickPadding(7));
      ax.select(".domain").remove();
      ax.selectAll("line").attr("stroke","#555");
      ax.selectAll("text").attr("font-family",FONT).attr("font-size",14).attr("fill","#4d4d4d");
    }
    if(ci===cancers.length-1){
      svg.append("text").attr("transform",`translate(${px+panelW+12},${py+panelH/2}) rotate(90)`)
        .attr("text-anchor","middle").attr("font-family",FONT).attr("font-size",19).attr("fill","#1a1a1a").text(gn);
    }
  });
});

// axis titles
svg.append("text").attr("x",596).attr("y",930).attr("text-anchor","middle")
  .attr("font-family",FONT).attr("font-size",25).attr("fill","#000").text("Log2 mutation load");
svg.append("text").attr("transform","translate(217,465) rotate(-90)").attr("text-anchor","middle")
  .attr("font-family",FONT).attr("font-size",25).attr("fill","#000").text("Median-centered log2 MMR gene expression");

// legend
svg.append("text").attr("x",1001).attr("y",441).attr("font-family",FONT).attr("font-size",21).attr("fill","#000").text("MSI status");
statusLabels.forEach((s,i)=>{
  const ly = 463 + i*28;
  svg.append("circle").attr("cx",1015).attr("cy",ly).attr("r",3.6).attr("fill",colors[i]).attr("fill-opacity",alphas[i]);
  svg.append("text").attr("x",1033).attr("y",ly+6).attr("font-family",FONT).attr("font-size",17).attr("fill","#000").text(s);
});

// caption
const CAP = "'Open Sans', 'Noto Sans', sans-serif";
svg.append("text").attr("x",25).attr("y",968).attr("font-family",CAP).attr("font-size",19).attr("font-weight","bold").attr("fill","#231f20").text("Fig. 1");
svg.append("text").attr("x",85).attr("y",968).attr("font-family",CAP).attr("font-size",19).attr("fill","#231f20")
  .attr("textLength",1137).attr("lengthAdjust","spacingAndGlyphs")
  .text("Expression of tumor mismatch repair genes versus tumor mutation burden in each TCGA dataset. Each column shows data from a single");
svg.append("text").attr("x",25).attr("y",993).attr("font-family",CAP).attr("font-size",19).attr("fill","#231f20")
  .attr("textLength",1245).attr("lengthAdjust","spacingAndGlyphs")
  .text("cancer type, and each row shows data from a single gene. Color denotes tumor microsatellite instability (MSI) status as reported in the TCGA database");
</script>
</body></html>
